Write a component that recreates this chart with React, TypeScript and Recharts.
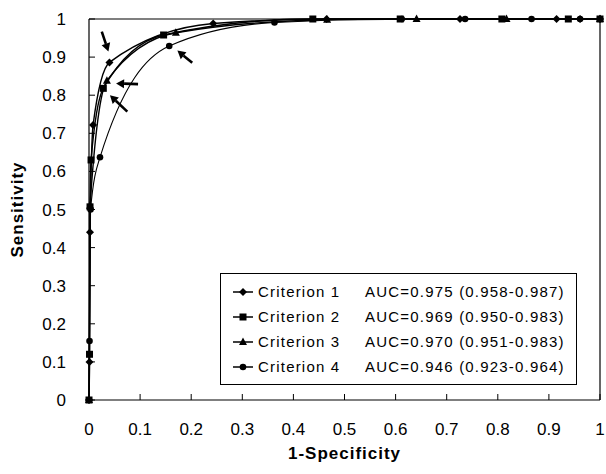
import { LineChart, Line, XAxis, YAxis, ReferenceLine, Legend } from 'recharts';

const FONT = '"Liberation Sans", Arial, sans-serif';

const axisTicks = [0, 0.1, 0.2, 0.3, 0.4, 0.5, 0.6, 0.7, 0.8, 0.9, 1];

// ROC points: x = 1-specificity, y = sensitivity
const criterion1 = [
  { x: 0, y: 0 },
  { x: 0.001, y: 0.1 },
  { x: 0.002, y: 0.44 },
  { x: 0.008, y: 0.722 },
  { x: 0.04, y: 0.886 },
  { x: 0.243, y: 0.988 },
  { x: 0.465, y: 1 },
  { x: 0.726, y: 1 },
  { x: 0.915, y: 1 },
  { x: 0.961, y: 1 },
  { x: 1, y: 1 },
];

const criterion2 = [
  { x: 0, y: 0 },
  { x: 0.001, y: 0.12 },
  { x: 0.002, y: 0.507 },
  { x: 0.004, y: 0.63 },
  { x: 0.028, y: 0.818 },
  { x: 0.146, y: 0.958 },
  { x: 0.438, y: 1 },
  { x: 0.609, y: 1 },
  { x: 0.808, y: 1 },
  { x: 0.938, y: 1 },
  { x: 1, y: 1 },
];

const criterion3 = [
  { x: 0, y: 0 },
  { x: 0.002, y: 0.51 },
  { x: 0.035, y: 0.838 },
  { x: 0.17, y: 0.964 },
  { x: 0.466, y: 0.998 },
  { x: 0.641, y: 1 },
  { x: 0.817, y: 1 },
  { x: 1, y: 1 },
];

const criterion4 = [
  { x: 0, y: 0 },
  { x: 0.001, y: 0.155 },
  { x: 0.003, y: 0.5 },
  { x: 0.0215, y: 0.637 },
  { x: 0.157, y: 0.929 },
  { x: 0.363, y: 0.991 },
  { x: 0.612, y: 1 },
  { x: 0.736, y: 1 },
  { x: 0.866, y: 1 },
  { x: 0.961, y: 1 },
  { x: 1, y: 1 },
];

const seriesNames = ['Criterion 1', 'Criterion 2', 'Criterion 3', 'Criterion 4'];
const aucLabels = [
  'AUC=0.975 (0.958-0.987)',
  'AUC=0.969 (0.950-0.983)',
  'AUC=0.970 (0.951-0.983)',
  'AUC=0.946 (0.923-0.964)',
];
const markerShapes = ['diamond', 'square', 'triangle', 'circle'];

// annotation arrows (tail -> head) in data units
const arrowTails = [
  { x: 0.025, y: 0.967 },
  { x: 0.096, y: 0.829 },
  { x: 0.075, y: 0.757 },
  { x: 0.202, y: 0.885 },
];
const arrowHeads = [
  { x: 0.038, y: 0.915 },
  { x: 0.053, y: 0.831 },
  { x: 0.041, y: 0.8 },
  { x: 0.173, y: 0.917 },
];

function Marker({ cx, cy, shape }: { cx: number; cy: number; shape: string }) {
  if (cx == null || cy == null) return null;
  if (shape === 'diamond') {
    return <polygon points={`${cx},${cy - 4} ${cx + 4},${cy} ${cx},${cy + 4} ${cx - 4},${cy}`} fill="#000" />;
  }
  if (shape === 'square') {
    return <rect x={cx - 3.5} y={cy - 3.5} width={7} height={7} fill="#000" />;
  }
  if (shape === 'triangle') {
    return <polygon points={`${cx},${cy - 4.5} ${cx + 4},${cy + 3} ${cx - 4},${cy + 3}`} fill="#000" />;
  }
  return <circle cx={cx} cy={cy} r={3.3} fill="#000" />;
}

function XTick(props: any) {
  const { x, y, payload } = props;
  const axisY = y - 23;
  return (
    <g>
      <line x1={x} y1={axisY} x2={x} y2={axisY - 6} stroke="#000" strokeWidth={1} />
      <text x={x} y={y} dy="0.71em" textAnchor="middle" fontSize={17} fontFamily={FONT} fill="#000">
        {payload.value}
      </text>
    </g>
  );
}

function YTick(props: any) {
  const { x, y, payload } = props;
  const axisX = x + 23;
  return (
    <g>
      <line x1={axisX} y1={y} x2={axisX + 6} y2={y} stroke="#000" strokeWidth={1} />
      <text x={x} y={y} dy="0.355em" textAnchor="end" fontSize={17} fontFamily={FONT} fill="#000">
        {payload.value}
      </text>
    </g>
  );
}

function Arrow(props: any) {
  const { x1, y1, x2, y2 } = props;
  const dx = x2 - x1;
  const dy = y2 - y1;
  const len = Math.sqrt(dx * dx + dy * dy) || 1;
  const ux = dx / len;
  const uy = dy / len;
  const headLen = 8;
  const headW = 4.5;
  const bx = x2 - ux * headLen;
  const by = y2 - uy * headLen;
  return (
    <g>
      <line x1={x1} y1={y1} x2={bx} y2={by} stroke="#000" strokeWidth={2.6} />
      <polygon
        points={`${x2},${y2} ${bx - uy * headW},${by + ux * headW} ${bx + uy * headW},${by - ux * headW}`}
        fill="#000"
      />
    </g>
  );
}

function renderLegend() {
  return (
    <div
      style={{
        border: '1px solid #000',
        background: '#fff',
        padding: '5px 0',
        width: 357,
        boxSizing: 'border-box',
        fontFamily: FONT,
        fontSize: 15,
        letterSpacing: 1.2,
        color: '#000',
      }}
    >
      {seriesNames.map((name, i) => (
        <div key={name} style={{ display: 'flex', alignItems: 'center', height: 25 }}>
          <svg width={20} height={10} style={{ marginLeft: 12 }}>
            <line x1={0} y1={5} x2={20} y2={5} stroke="#000" strokeWidth={1.5} />
            <Marker cx={10} cy={5} shape={markerShapes[i]} />
          </svg>
          <span style={{ marginLeft: 5, width: 107, whiteSpace: 'nowrap' }}>{name}</span>
          <span style={{ whiteSpace: 'nowrap' }}>{aucLabels[i]}</span>
        </div>
      ))}
    </div>
  );
}

const seriesData = [criterion1, criterion2, criterion3, criterion4];

export default function App() {
  return (
    <div style={{ position: 'absolute', left: 0, top: 0, background: '#fff' }}>
      <LineChart width={606} height={474} margin={{ top: 19, right: 6, bottom: 0, left: 0 }}>
        <XAxis
          type="number"
          dataKey="x"
          domain={[0, 1]}
          ticks={axisTicks}
          interval={0}
          height={74}
          tickSize={0}
          tickMargin={23}
          tick={<XTick />}
          axisLine={{ stroke: '#000', strokeWidth: 1.2 }}
          label={{
            content: (p: any) => {
              const vb = p.viewBox;
              return (
                <text
                  x={vb.x + vb.width / 2}
                  y={vb.y + 59}
                  textAnchor="middle"
                  fontSize={17}
                  fontWeight="bold"
                  letterSpacing={1}
                  fontFamily={FONT}
                  fill="#000"
                >
                  1-Specificity
                </text>
              );
            },
          }}
        />
        <YAxis
          type="number"
          domain={[0, 1]}
          ticks={axisTicks}
          interval={0}
          width={89}
          tickSize={0}
          tickMargin={23}
          tick={<YTick />}
          axisLine={{ stroke: '#000', strokeWidth: 1.2 }}
          label={{
            content: (p: any) => {
              const vb = p.viewBox;
              const cx = vb.x + 23;
              const cy = vb.y + vb.height / 2;
              return (
                <text
                  x={cx}
                  y={cy}
                  transform={`rotate(-90, ${cx}, ${cy})`}
                  textAnchor="middle"
                  fontSize={17}
                  fontWeight="bold"
                  letterSpacing={1}
                  fontFamily={FONT}
                  fill="#000"
                >
                  Sensitivity
                </text>
              );
            },
          }}
        />
        <ReferenceLine y={1} stroke="#000" strokeWidth={1.2} />
        <ReferenceLine x={1} stroke="#000" strokeWidth={1.2} />
        {seriesData.map((d, i) => (
          <Line
            key={seriesNames[i]}
            data={d}
            dataKey="y"
            name={seriesNames[i]}
            type="monotone"
            stroke="#000"
            strokeWidth={i === 3 ? 1.1 : 1.4}
            isAnimationActive={false}
            dot={(p: any) => <Marker key={`${i}-${p.index}`} cx={p.cx} cy={p.cy} shape={markerShapes[i]} />}
            activeDot={false}
          />
        ))}
        {arrowTails.map((t, i) => (
          <ReferenceLine
            key={`arrow-${i}`}
            segment={[t, arrowHeads[i]]}
            stroke="#000"
            shape={Arrow}
            ifOverflow="visible"
          />
        ))}
        <Legend
          layout="vertical"
          align="center"
          verticalAlign="middle"
          content={renderLegend}
          wrapperStyle={{ left: 220, top: 273, width: 357 }}
        />
      </LineChart>
    </div>
  );
}
